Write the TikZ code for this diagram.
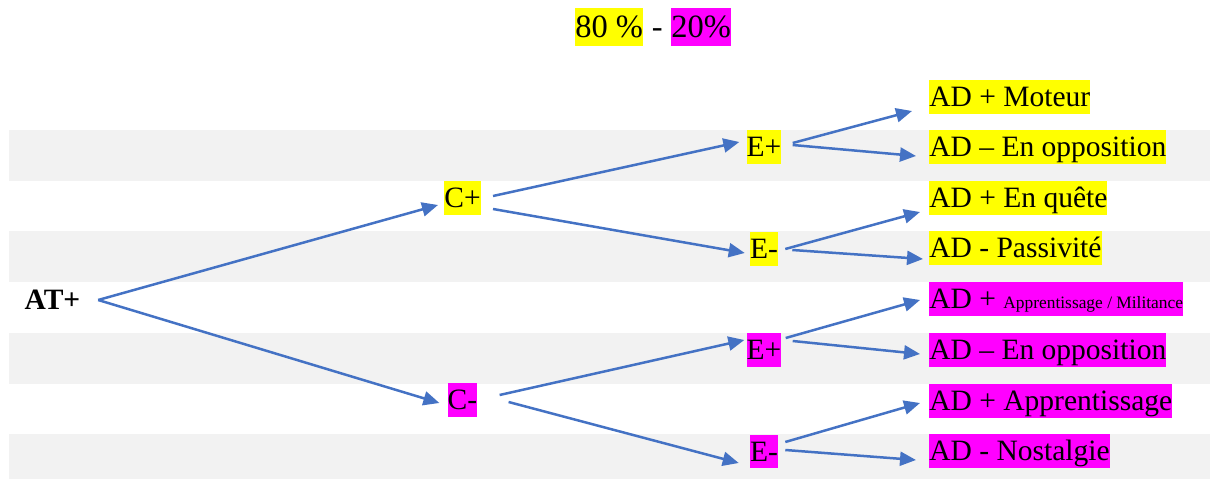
\documentclass[tikz,border=0pt]{standalone}
\usepackage{fontspec}
\setmainfont{Liberation Serif}
\usetikzlibrary{arrows.meta,positioning}
\definecolor{hlyellow}{HTML}{FFFF00}
\definecolor{hlmagenta}{HTML}{FF00FF}
\definecolor{arrowblue}{HTML}{4472C4}
\definecolor{bandgrey}{HTML}{F2F2F2}

\begin{document}
\begin{tikzpicture}[
        x=0.02cm, y=-0.02cm,
        every node/.style={font=\fontsize{16.8}{20}\selectfont, inner xsep=0pt, inner ysep=0.35pt,
            text height=14.97pt, text depth=3.63pt},
        hly/.style={fill=hlyellow},
        hlm/.style={fill=hlmagenta},
        leaf/.style={anchor=west},
        title/.style={font=\fontsize{18.5}{22}\selectfont, text height=16.5pt, text depth=4pt},
        arr/.style={draw=arrowblue, line width=0.05cm, -{Triangle[length=0.32cm, width=0.28cm]}}
    ]
    \useasboundingbox (0,0) rectangle (1210,479);
    \foreach \ya/\yb in {130/181, 231/282, 333/384, 434/479}
        \fill[bandgrey] (9,\ya) rectangle (1210,\yb);

    \node[title, hly, anchor=west] (pct80) at (575,27) {80 \%};
    \node[title, right=0pt of pct80, inner xsep=4.6pt] (dash) {-};
    \node[title, hlm, right=0pt of dash] (pct20) {20\%};

    \node[font=\bfseries\fontsize{16.8}{20}\selectfont] (at) at (52.5,300) {AT+};

    \node[hly] (cp) at (462.5,198) {C+};
    \node[hlm] (cm) at (462.5,400) {C-};

    \node[hly] (ep1) at (764,147) {E+};
    \node[hly] (em1) at (764,249) {E-};
    \node[hlm] (ep2) at (764,350) {E+};
    \node[hlm] (em2) at (764,451.5) {E-};

    \node[hly, leaf] (ad1) at (929,97) {AD + Moteur};
    \node[hly, leaf] (ad2) at (929,147) {AD \textendash{} En opposition};
    \node[hly, leaf] (ad3) at (929,198) {AD + En quête};
    \node[hly, leaf] (ad4) at (929,248) {AD - Passivité};
    \node[hlm, leaf] (ad5) at (929,299) {AD + {\fontsize{9.9}{12}\selectfont Apprentissage / Militance}};
    \node[hlm, leaf] (ad6) at (929,350) {AD \textendash{} En opposition};
    \node[hlm, leaf] (ad7) at (929,401) {AD + Apprentissage};
    \node[hlm, leaf] (ad8) at (929,451) {AD - Nostalgie};

    \draw[arr] ([shift={(17.5,0)}]at.east) -- ([shift={(-6,7)}]cp.west);
    \draw[arr] ([shift={(17.5,0)}]at.east) -- ([shift={(-8,3)}]cm.west);
    \draw[arr] ([shift={(12,-2)}]cp.east) -- ([shift={(-7,-5)}]ep1.west);
    \draw[arr] ([shift={(12,11)}]cp.east) -- ([shift={(-5,4)}]em1.west);
    \draw[arr] ([shift={(22,-5)}]cm.east) -- ([shift={(-2,-10)}]ep2.west);
    \draw[arr] ([shift={(31,2)}]cm.east) -- ([shift={(-11,11.5)}]em2.west);
    \draw[arr] ([shift={(11,-4)}]ep1.east) -- ([shift={(-17,14)}]ad1.west);
    \draw[arr] ([shift={(11,-2)}]ep1.east) -- ([shift={(-13,9)}]ad2.west);
    \draw[arr] ([shift={(7,0)}]em1.east) -- ([shift={(-9,14)}]ad3.west);
    \draw[arr] ([shift={(14,1)}]em1.east) -- ([shift={(-6,11)}]ad4.west);
    \draw[arr] ([shift={(4,-12)}]ep2.east) -- ([shift={(-9,1)}]ad5.west);
    \draw[arr] ([shift={(11,-9)}]ep2.east) -- ([shift={(-9,4)}]ad6.west);
    \draw[arr] ([shift={(7,-9.5)}]em2.east) -- ([shift={(-9,2)}]ad7.west);
    \draw[arr] ([shift={(7,-1.5)}]em2.east) -- ([shift={(-13,9)}]ad8.west);
\end{tikzpicture}
\end{document}
